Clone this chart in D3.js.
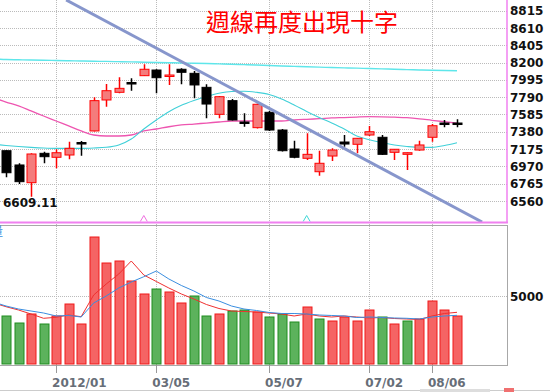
<!DOCTYPE html>
<html><head><meta charset="utf-8">
<script src="https://cdn.jsdelivr.net/npm/d3@7"></script>
<style>html,body{margin:0;padding:0;background:#fff;}svg{display:block;}</style>
</head><body>
<svg id="c" width="550" height="392"></svg>
<script>
// ---- data ----
const title = "週線再度出現十字";
const openP  = [7156,6987,6777,7125,7078,7105,7253,7390,7757,7848,7964,8045,8112,8038,8121,8073,7907,7587,7749,7496,7429,7611,7401,7176,7066,6907,7093,7259,7232,7342,7315,7137,7113,7164,7315,7484,7484];
const highP  = [7160,7007,7125,7144,7173,7263,7271,7789,7946,8026,8014,8180,8121,8180,8133,8101,7943,7805,7769,7599,7715,7626,7413,7275,7362,7156,7184,7342,7307,7449,7342,7176,7135,7275,7472,7520,7528];
const lowP   = [6841,6761,6609.11,7007,6948,7054,7097,7385,7677,7836,7867,8040,7836,7935,7943,7777,7540,7540,7514,7440,7419,7390,7147,7066,7046,6860,7034,7203,7125,7330,7105,7046,6927,7156,7263,7433,7433];
const closeP = [6895,6789,7117,7085,7132,7184,7247,7749,7867,7895,7958,8121,8021,8053,8085,7935,7709,7796,7520,7490,7706,7401,7156,7078,7113,7007,7164,7235,7303,7381,7113,7173,7132,7224,7452,7478,7482];
const prevClose = 7000;
// moving averages: first value is the week before the first candle
const maLong  = [8243,8236,8233,8230,8228,8225,8222,8219,8216,8214,8211,8208,8205,8202,8199,8196,8192,8189,8185,8181,8176,8171,8166,8160,8155,8150,8146,8142,8138,8134,8130,8126,8121,8117,8113,8109,8106,8104];
const maMid   = [7785,7733,7686,7627,7567,7508,7449,7390,7342,7330,7330,7342,7390,7413,7440,7461,7472,7484,7496,7508,7508,7508,7508,7508,7520,7528,7535,7544,7549,7555,7559,7558,7553,7547,7534,7516,7499,7484];
const maShort = [7232,7218,7206,7196,7188,7184,7184,7184,7188,7196,7224,7295,7413,7520,7618,7694,7751,7798,7836,7858,7861,7848,7822,7769,7698,7621,7549,7484,7413,7330,7285,7253,7224,7206,7196,7196,7218,7251];
const volume  = [3551,3043,3696,2971,3551,4420,2971,9275,7391,7536,6087,5145,5507,5290,4493,5000,3551,3696,3913,3985,3840,3478,3696,3116,4203,3333,3188,3478,3188,3985,3478,2971,3188,3333,4638,3985,3551];
const volMaRed  = [4500,4224,3985,3695,3384,3456,3623,3500,5072,5869,6594,7536,6521,6050,5579,5145,4782,4384,4094,3913,3877,3840,3768,3695,3551,3695,3551,3478,3551,3478,3406,3442,3369,3333,3297,3551,3732,3819];
const volMaBlue = [4560,4275,4058,3913,3768,3551,3587,3478,4493,5000,5579,6014,6398,6811,6232,5761,5362,4891,4637,4275,4058,3949,3804,3732,3732,3695,3623,3587,3551,3442,3478,3442,3406,3384,3333,3478,3551,3601];
const priceTicks = [6560,6765,6970,7175,7380,7585,7790,7995,8200,8405,8610,8815];
const volTicks = [5000];
const dateTickIdx = [4,12,21,29,34];
const dateTickLabels = ["2012/01","03/05","05/07","07/02","08/06"];
const trendLine = [{i:4.8,p:8942},{i:38,p:6311}];
const markPink = 11, markCyan = 24;
const lowLabel = "6609.11";

// ---- scales ----
const svg = d3.select("#c");
const x = d3.scaleLinear().domain([0,36]).range([6,457]);
const y = d3.scaleLinear().domain([6560,8815]).range([201,10.7]);
const yv = d3.scaleLinear().domain([0,5000]).range([365,296]);
const plotR = 507, priceBottom = 222.5, volTop = 225, volBottom = 365;
const n = openP.length;
const idx = d3.range(n);

svg.append("clipPath").attr("id","pc").append("rect").attr("x",0).attr("y",0).attr("width",plotR).attr("height",priceBottom);
svg.append("clipPath").attr("id","vc").append("rect").attr("x",0).attr("y",volTop).attr("width",plotR).attr("height",volBottom-volTop);

// grid
svg.append("g").selectAll("line").data(priceTicks).join("line")
  .attr("x1",0).attr("x2",plotR).attr("y1",d=>Math.round(y(d))+0.5).attr("y2",d=>Math.round(y(d))+0.5)
  .attr("stroke","#bbb").attr("stroke-dasharray","1,1");
svg.append("g").selectAll("line").data(dateTickIdx).join("line")
  .attr("x1",d=>Math.round(x(d))+0.5).attr("x2",d=>Math.round(x(d))+0.5).attr("y1",0).attr("y2",volBottom)
  .attr("stroke","#bbb").attr("stroke-dasharray","1,1");
svg.append("g").selectAll("line").data(volTicks).join("line")
  .attr("x1",0).attr("x2",plotR).attr("y1",d=>Math.round(yv(d))+0.5).attr("y2",d=>Math.round(yv(d))+0.5)
  .attr("stroke","#bbb").attr("stroke-dasharray","1,1");

// title
svg.append("text").attr("x",206).attr("y",31).text(title)
  .attr("font-family","'Noto Sans CJK TC'").attr("font-size",24).attr("fill","#f00");

// MA lines (index 0 = prior week)
const pl = svg.append("g").attr("clip-path","url(#pc)");
const lineP = arr => d3.line().x((d,i)=>x(i-1)).y(d=>y(d)).curve(d3.curveMonotoneX)(arr);
pl.append("path").attr("d",lineP(maLong)).attr("fill","none").attr("stroke","#5ee6ea").attr("stroke-width",1.4);
pl.append("path").attr("d",lineP(maMid)).attr("fill","none").attr("stroke","#ee55b0").attr("stroke-width",1.3);
pl.append("path").attr("d",lineP(maShort)).attr("fill","none").attr("stroke","#40d0d8").attr("stroke-width",1.1);

// candles
const cg = svg.append("g").attr("clip-path","url(#pc)");
const bw = 9;
const up = i => closeP[i] > openP[i];
cg.selectAll("line.w").data(idx).join("line").attr("class","w")
  .attr("x1",i=>Math.round(x(i))+0.5).attr("x2",i=>Math.round(x(i))+0.5)
  .attr("y1",i=>y(highP[i])).attr("y2",i=>y(lowP[i]))
  .attr("stroke",i=>up(i)?"#f00":"#000").attr("stroke-width",1.5);
cg.selectAll("rect.b").data(idx).join("rect").attr("class","b")
  .attr("x",i=>Math.round(x(i))-bw/2+0.5).attr("width",bw)
  .attr("y",i=>y(Math.max(openP[i],closeP[i])))
  .attr("height",i=>Math.max(1.5,Math.abs(y(openP[i])-y(closeP[i]))))
  .attr("fill",i=>up(i)?"#f47c7c":"#000").attr("stroke",i=>up(i)?"#f00":"#000").attr("stroke-width",1);

// trend line
cg.append("path").attr("d",d3.line().x(d=>x(d.i)).y(d=>y(d.p))(trendLine))
  .attr("stroke","#8796cc").attr("stroke-width",3).attr("fill","none");

// low label
svg.append("text").attr("x",3).attr("y",207).text(lowLabel)
  .attr("font-family","DejaVu Sans").attr("font-weight","bold").attr("font-size",12).attr("fill","#111");

// triangle marks
const tri = (cx,col)=> svg.append("path")
  .attr("d",`M${cx-3.5},${priceBottom-1}L${cx},${priceBottom-7}L${cx+3.5},${priceBottom-1}`)
  .attr("fill","none").attr("stroke",col).attr("stroke-width",1);
tri(x(markPink),"#f070e0");
tri(x(markCyan),"#40d8d8");

// pink frame
svg.append("line").attr("x1",0).attr("x2",plotR+1).attr("y1",priceBottom).attr("y2",priceBottom).attr("stroke","#f080f0").attr("stroke-width",2);
svg.append("line").attr("x1",plotR).attr("x2",plotR).attr("y1",0).attr("y2",priceBottom).attr("stroke","#f080f0").attr("stroke-width",1.5);

// price axis labels
svg.append("g").selectAll("text").data(priceTicks).join("text")
  .attr("x",510).attr("y",d=>y(d)+4.5).text(d=>d)
  .attr("font-family","DejaVu Sans").attr("font-weight","bold").attr("font-size",12).attr("fill","#111");

// volume panel frame
svg.append("rect").attr("x",-1).attr("y",volTop+0.5).attr("width",plotR+1.5).attr("height",volBottom-volTop)
  .attr("fill","none").attr("stroke","#a8a8a8").attr("stroke-width",1);

// volume bars
const vg = svg.append("g").attr("clip-path","url(#vc)");
const vUp = i => closeP[i] > (i===0?prevClose:closeP[i-1]);
vg.selectAll("rect").data(idx).join("rect")
  .attr("x",i=>Math.round(x(i))-4.5+0.5).attr("width",9)
  .attr("y",i=>yv(volume[i])).attr("height",i=>yv(0)-1-yv(volume[i]))
  .attr("fill",i=>vUp(i)?"#f56464":"#5cb25c").attr("stroke",i=>vUp(i)?"#f01818":"#1e8c1e").attr("stroke-width",1);
const lineV = arr => d3.line().x((d,i)=>x(i-1)).y(d=>yv(d))(arr);
vg.append("path").attr("d",lineV(volMaRed)).attr("fill","none").attr("stroke","#f03030").attr("stroke-width",1);
vg.append("path").attr("d",lineV(volMaBlue)).attr("fill","none").attr("stroke","#3a8ee0").attr("stroke-width",1);

svg.append("text").attr("x",-9).attr("y",236).text("量").attr("font-family","'Noto Sans CJK TC'").attr("font-size",12).attr("fill","#3a8ee0");

// volume axis label
svg.append("g").selectAll("text").data(volTicks).join("text")
  .attr("x",510).attr("y",d=>yv(d)+4.5).text(d=>d)
  .attr("font-family","DejaVu Sans").attr("font-weight","bold").attr("font-size",12).attr("fill","#111");

// x axis ticks & labels
const xa = svg.append("g");
xa.selectAll("line").data(dateTickIdx).join("line")
  .attr("x1",d=>Math.round(x(d))+0.5).attr("x2",d=>Math.round(x(d))+0.5).attr("y1",volBottom).attr("y2",volBottom+8)
  .attr("stroke","#999");
xa.selectAll("text").data(dateTickIdx).join("text")
  .attr("x",(d)=>x(d)-4).attr("y",387).text((d,i)=>dateTickLabels[i])
  .attr("font-family","DejaVu Sans").attr("font-weight","bold").attr("font-size",12).attr("fill","#676e78");
svg.append("line").attr("x1",0).attr("x2",550).attr("y1",390.5).attr("y2",390.5).attr("stroke","#ccc");
svg.append("rect").attr("x",420).attr("y",389).attr("width",70).attr("height",3).attr("fill","#ddd");
svg.append("rect").attr("x",504).attr("y",388).attr("width",10).attr("height",4).attr("fill","#f07070");
</script>
</body></html>
